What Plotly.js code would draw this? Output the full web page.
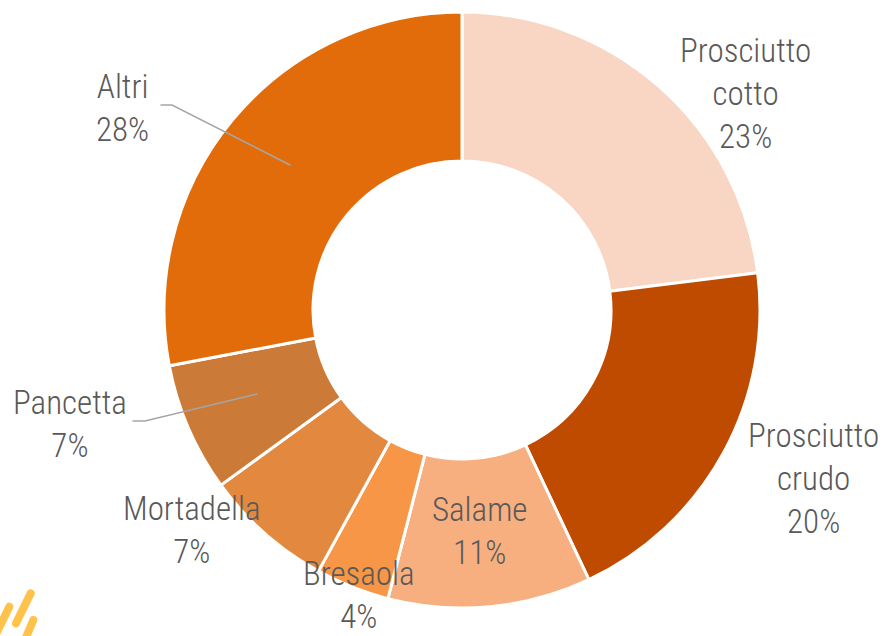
<!DOCTYPE html>
<html>
<head>
<meta charset="utf-8">
<script src="https://cdn.plot.ly/plotly-3.0.1.min.js"></script>
<style>
html,body{margin:0;padding:0;background:#fff;}
#chart{width:884px;height:636px;}
.shapelayer path{stroke-linecap:round;}
</style>
</head>
<body>
<div id="chart"></div>
<script>
// Data
const categories = ["Prosciutto cotto", "Prosciutto crudo", "Salame", "Bresaola", "Mortadella", "Pancetta", "Altri"];
const labelLines = ["Prosciutto<br>cotto", "Prosciutto<br>crudo", "Salame", "Bresaola", "Mortadella", "Pancetta", "Altri"];
const shares = [23, 20, 11, 4, 7, 7, 28];
const sliceColors = ["#F9D5C3", "#BE4B00", "#F7AF80", "#F79646", "#E3883F", "#CC7A38", "#E36C0A"];

const W = 884, H = 636;
const FONT = "'Liberation Sans Narrow', 'Arial Narrow', 'Roboto Condensed', Roboto, sans-serif";

// label block centres in pixels (layout)
const labelPos = [
  [745, 93], [813, 478], [480, 531], [359, 595], [192, 530], [70, 424], [122, 108]
];

const annotations = categories.map((c, i) => ({
  text: labelLines[i] + "<br>" + shares[i] + "%",
  xref: "paper", yref: "paper",
  x: labelPos[i][0] / W, y: 1 - labelPos[i][1] / H,
  xanchor: "center", yanchor: "middle", align: "center",
  showarrow: false,
  font: {family: FONT, size: 33, weight: 300, color: "#595959"}
}));

function pathFrom(pts) {
  return pts.map((p, i) => (i ? "L" : "M") + (p[0] / W) + "," + (1 - p[1] / H)).join(" ");
}

const shapes = [
  {type: "path", xref: "paper", yref: "paper", path: pathFrom([[161,105],[172,105],[290,165]]),
   line: {color: "#A6A6A6", width: 1.5}},
  {type: "path", xref: "paper", yref: "paper", path: pathFrom([[133,421],[145,421],[257,394]]),
   line: {color: "#A6A6A6", width: 1.5}},
  // logo strokes
  {type: "path", xref: "paper", yref: "paper", path: pathFrom([[9.3,606.7],[-5,636]]), line: {color: "#FFC24A", width: 8}},
  {type: "path", xref: "paper", yref: "paper", path: pathFrom([[30.7,593.3],[16,623.3]]), line: {color: "#FFC24A", width: 8}},
  {type: "path", xref: "paper", yref: "paper", path: pathFrom([[33.3,620],[25,640]]), line: {color: "#FFC24A", width: 8}},
  {type: "path", xref: "paper", yref: "paper", path: pathFrom([[40.5,640.5],[36,650]]), line: {color: "#FFC24A", width: 8}}
];

const cx = 462, cy = 310, R = 298;
const trace = {
  type: "pie",
  labels: categories,
  values: shares,
  sort: false,
  direction: "clockwise",
  rotation: 0,
  hole: 0.5,
  textinfo: "none",
  hoverinfo: "label+percent",
  marker: {colors: sliceColors, line: {color: "#FFFFFF", width: 3}},
  domain: {x: [(cx - R) / W, (cx + R) / W], y: [1 - (cy + R) / H, 1 - (cy - R) / H]}
};

const layout = {
  width: W, height: H,
  margin: {l: 0, r: 0, t: 0, b: 0},
  paper_bgcolor: "#FFFFFF",
  showlegend: false,
  annotations: annotations,
  shapes: shapes
};

Plotly.newPlot("chart", [trace], layout, {displayModeBar: false, staticPlot: true});
</script>
</body>
</html>
